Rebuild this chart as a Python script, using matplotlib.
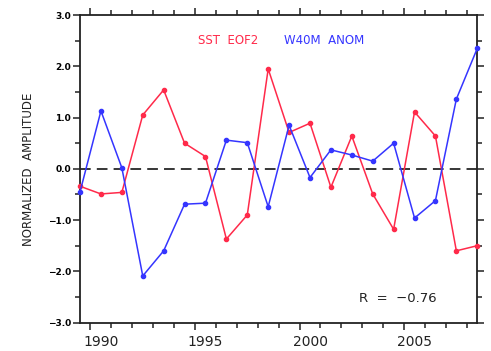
import matplotlib
matplotlib.use('Agg')
import matplotlib.pyplot as plt
from matplotlib.ticker import MultipleLocator, FixedLocator, NullFormatter
import numpy as np

# Annual values, 1989-2008
years = np.arange(1989, 2009)
sst_eof2 = [-0.34, -0.49, -0.46, 1.05, 1.54, 0.50, 0.24, -1.37, -0.90, 1.95,
            0.71, 0.89, -0.36, 0.64, -0.49, -1.18, 1.11, 0.64, -1.60, -1.50]
w40m_anom = [-0.45, 1.13, 0.02, -2.09, -1.60, -0.69, -0.67, 0.56, 0.51, -0.74,
             0.85, -0.17, 0.37, 0.27, 0.15, 0.50, -0.96, -0.62, 1.36, 2.35]
year_labels = [1990, 1995, 2000, 2005]
corr_text = 'R  =  \u22120.76'

red = '#ff2a4a'
blue = '#3535ff'

fig = plt.figure(figsize=(4.91, 3.51), dpi=100)
ax = fig.add_axes([0.163, 0.081, 0.809, 0.876])

# points sit in the middle of each year
x = years + 0.5
ax.plot(x, sst_eof2, '-o', color=red, lw=1.1, ms=3.0, clip_on=False, zorder=3)
ax.plot(x, w40m_anom, '-o', color=blue, lw=1.1, ms=3.0, clip_on=False, zorder=3)
ax.axhline(0, color='black', lw=1.1, ls=(0, (7, 4)), zorder=2)

ax.set_xlim(1989.5, 2008.5)
ax.set_ylim(-3, 3)

# yearly ticks, long ones every 5 years; labels centred in the year
ax.xaxis.set_major_locator(FixedLocator(year_labels))
ax.xaxis.set_minor_locator(MultipleLocator(1))
ax.xaxis.set_major_formatter(NullFormatter())
for yr in year_labels:
    ax.text(yr + 0.5, -3.24, str(yr), ha='center', va='top', fontsize=10,
            color='#222222', transform=ax.transData)

ax.set_yticks([-3, -2, -1, 0, 1, 2, 3])
ax.yaxis.set_minor_locator(MultipleLocator(0.5))
ax.set_yticklabels(['\u22123.0', '\u22122.0', '\u22121.0', '0.0', '1.0', '2.0', '3.0'],
                   fontsize=6.5, fontweight='bold')

ax.tick_params(which='both', direction='out', top=True, right=True,
               labelright=False, labeltop=False, width=1.1, color='#222222')
ax.tick_params(which='major', length=5, pad=1.5)
ax.tick_params(which='minor', length=3.5)
for s in ax.spines.values():
    s.set_linewidth(1.3)
    s.set_color('#222222')

ax.set_ylabel('NORMALIZED  AMPLITUDE', fontsize=8.5, labelpad=9, color='#222222')

# pixel positions measured from the top-left of the picture
ax.text(228, 351 - 41, 'SST  EOF2', color=red, fontsize=8.5, ha='center',
        va='center', transform=None)
ax.text(324, 351 - 41, 'W40M  ANOM', color=blue, fontsize=8.5, ha='center',
        va='center', transform=None)
ax.text(398, 351 - 298, corr_text, color='#222222', fontsize=9.5, ha='center',
        va='center', transform=None)

fig.savefig('out.png', dpi=100)
